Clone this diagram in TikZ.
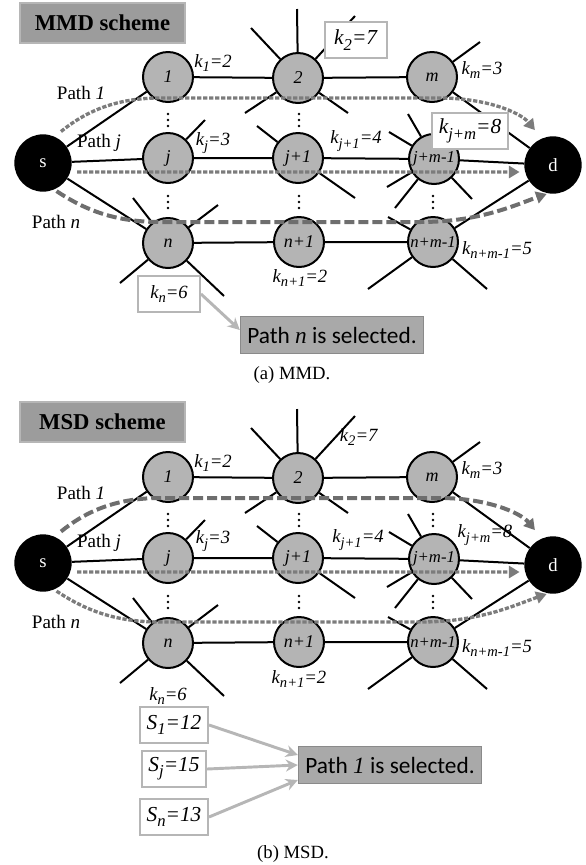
\documentclass[tikz,border=0pt]{standalone}
\usepackage{fontspec}
\setmainfont{Liberation Serif}
\newfontfamily\selfont{Carlito}
\usepackage{graphicx}
\usepackage{tikz}
\usetikzlibrary{arrows.meta}
\usetikzlibrary{calc}

\definecolor{nodegray}{HTML}{B4B4B4}
\definecolor{pathgray}{HTML}{7C7C7C}
\definecolor{dashgray}{HTML}{6E6E6E}
\definecolor{titlegray}{HTML}{9C9C9C}
\definecolor{rimgray}{HTML}{B6B6B6}
\definecolor{selgray}{HTML}{A9A9A9}
\definecolor{selrim}{HTML}{8A8A8A}

\newcommand{\idx}[3]{\textit{#1\raisebox{-0.55ex}{\scalebox{0.78}{#2}}=#3}}

\begin{document}
\begin{tikzpicture}[x=0.75pt,y=0.75pt,yscale=-1,xscale=1,
  vtx/.style={circle,draw,line width=1.5pt,fill=nodegray,minimum size=37.5pt,inner sep=0pt,font=\fontsize{13.5}{15}\selectfont\itshape},
  term/.style={circle,fill=black,text=white,minimum size=43pt,inner sep=0pt,font=\fontsize{14}{16}\selectfont},
  link/.style={line width=1.5pt},
  klab/.style={inner sep=0.75pt,font=\fontsize{14}{16}\selectfont},
  kbox/.style={draw=rimgray,fill=white,line width=1.5pt,minimum height=26.5pt,minimum width=46.5pt,inner xsep=5pt,font=\fontsize{14}{16}\selectfont},
  kbig/.style={kbox,font=\fontsize{16}{18}\selectfont},
  plab/.style={inner sep=0.75pt,font=\fontsize{14.3}{16}\selectfont},
  titlebox/.style={draw=rimgray,fill=titlegray,line width=1.5pt,minimum width=124pt,minimum height=30pt,font=\fontsize{17}{19}\selectfont\bfseries},
  selbox/.style={draw=selrim,fill=selgray,line width=1.2pt,minimum height=28pt,inner xsep=5pt,font=\fontsize{17.5}{20}\selectfont\selfont},
  selarrow/.style={draw=rimgray,line width=2.2pt,-{Stealth[length=9pt,width=9pt]}},
  pdot/.style={draw=pathgray,line width=2.5pt,dash pattern=on 3.2pt off 1.3pt,-{Triangle[length=8pt,width=9pt]}},
  pdash/.style={draw=dashgray,line width=3pt,dash pattern=on 7.5pt off 3pt,-{Triangle[length=8pt,width=9pt]}},
  caption/.style={inner sep=0.75pt,font=\fontsize{14}{16}\selectfont}]
\useasboundingbox (0,0) rectangle (586,865);

% the network, once per panel
\foreach \p/\dy/\pa/\pn in {a/0/pdot/pdash,b/400/pdash/pdot}{
\begin{scope}[shift={(0,\dy)}]
\node [term] (s\p) at (43,163) {s};
\node [term] (d\p) at (553,165) {d};
\node [vtx] (v1\p) at (168,77) {1};
\node [vtx] (vj\p) at (168,158) {j};
\node [vtx] (vn\p) at (168,243) {n};
\node [vtx] (v2\p) at (298,78) {2};
\node [vtx] (vja\p) at (298,158) {j+1};
\node [vtx] (vna\p) at (299,242) {n+1};
\node [vtx] (vm\p) at (432,77) {m};
\node [vtx] (vjm\p) at (434,159) {\fontsize{12.5}{14}\selectfont j+m-1};
\node [vtx] (vnm\p) at (433,242) {\fontsize{12.5}{14}\selectfont n+m-1};

\draw [link] (s\p) -- (v1\p) (v1\p) -- (v2\p) (v2\p) -- (vm\p) (vm\p) -- (d\p);
\draw [link] (s\p) -- (vj\p) (vj\p) -- (vja\p) (vja\p) -- (vjm\p) (vjm\p) -- (d\p);
\draw [link] (s\p) -- (vn\p) (vn\p) -- (vna\p) (vna\p) -- (vnm\p) (vnm\p) -- (d\p);

% spokes
\draw [link] (v2\p) -- ++(-1,-69) (v2\p) -- ++(-47,-50) (v2\p) -- ++(57,-62) (v2\p) -- ++(-53,35) (v2\p) -- ++(50,35);
\draw [link] (vj\p) -- ++(37,-38);
\draw [link] (vja\p) -- ++(-41,-32) (vja\p) -- ++(57,40);
\draw [link] (vm\p) -- ++(48,-35);
\draw [link] (vjm\p) -- ++(-26,-45) (vjm\p) -- ++(-45,-27) (vjm\p) -- ++(-47,28) (vjm\p) -- ++(-39,49) (vjm\p) -- ++(38,40);
\draw [link] (vn\p) -- ++(-35,-45) (vn\p) -- ++(50,-38) (vn\p) -- ++(-48,40) (vn\p) -- ++(56,53);
\draw [link] (vnm\p) -- ++(-45,-25) (vnm\p) -- ++(-65,47) (vnm\p) -- ++(54,47);

\foreach \cx in {168,299,433}
  \foreach \cy in {114,120,126,196,202,208}
    \fill (\cx,\cy) circle (1.4);

% paths
\draw [\pa,shorten <=6pt,shorten >=8pt] (s\p.66) .. controls (85,112) and (115,98) .. (160,98) -- (440,98) .. controls (485,98) and (520,112) .. (d\p.113);
\draw [pdot,shorten <=5pt,shorten >=4pt] (s\p.-18) -- (d\p.194);
\draw [\pn,shorten <=2pt,shorten >=1pt] (s\p.-67) .. controls (85,210) and (115,222) .. (160,222) -- (420,222) .. controls (480,222) and (515,205) .. (d\p.-100);

\node [plab] (pl1\p) at (81,93) {Path \textit{1}};
\node [plab] (plj\p) at (99,143) {Path \textit{j}};
\node [plab] (pln\p) at (56,222) {Path \textit{n}};
\end{scope}
}

% (a) MMD
\node [titlebox] (ttla) at (102.5,23) {MMD scheme};
\node [klab] (k1a) at (213,63) {\idx{k}{1}{2}};
\node [kbig] (k2a) at (356,40) {\idx{k}{2}{7}};
\node [klab] (kma) at (482,70) {\idx{k}{m}{3}};
\node [klab] (kja) at (213,143) {\idx{k}{j}{3}};
\node [klab] (kjaa) at (356,141) {\idx{k}{j+1}{4}};
\node [kbig] (kjma) at (470,131) {\idx{k}{j+m}{8}};
\node [kbox] (kna) at (169,294) {\idx{k}{n}{6}};
\node [klab] (knaa) at (300,278) {\idx{k}{n+1}{2}};
\node [klab] (knma) at (497,250) {\idx{k}{n+m-1}{5}};
\node [selbox] (sela) at (332,335) {Path {\rmfamily\itshape n} is selected.};
\draw [selarrow] (kna.east) -- ($(sela.west)+(0,-5)$);
\node [caption] (capa) at (292,375) {(a) MMD.};

% (b) MSD
\node [titlebox] (ttlb) at (102.5,422) {MSD scheme};
\node [klab] (k1b) at (213,463) {\idx{k}{1}{2}};
\node [klab] (k2b) at (359,437) {\idx{k}{2}{7}};
\node [klab] (kmb) at (482,470) {\idx{k}{m}{3}};
\node [klab] (kjb) at (213,541) {\idx{k}{j}{3}};
\node [klab] (kjab) at (358,540) {\idx{k}{j+1}{4}};
\node [klab] (kjmb) at (485,535) {\idx{k}{j+m}{8}};
\node [klab] (knb) at (168,696) {\idx{k}{n}{6}};
\node [klab] (knab) at (299,679) {\idx{k}{n+1}{2}};
\node [klab] (knmb) at (497,648) {\idx{k}{n+m-1}{5}};
\node [kbig] (s1b) at (174,725) {\idx{S}{1}{12}};
\node [kbig] (sjb) at (174,769) {\idx{S}{j}{15}};
\node [kbig] (snb) at (174,817) {\idx{S}{n}{13}};
\node [selbox] (selb) at (390,765) {Path {\rmfamily\itshape 1} is selected.};
\draw [selarrow] (s1b.east) -- ($(selb.west)+(0,-10)$);
\draw [selarrow] (sjb.east) -- (selb.west);
\draw [selarrow] (snb.east) -- ($(selb.west)+(0,15)$);
\node [caption] (capb) at (293,854) {(b) MSD.};
\end{tikzpicture}
\end{document}
